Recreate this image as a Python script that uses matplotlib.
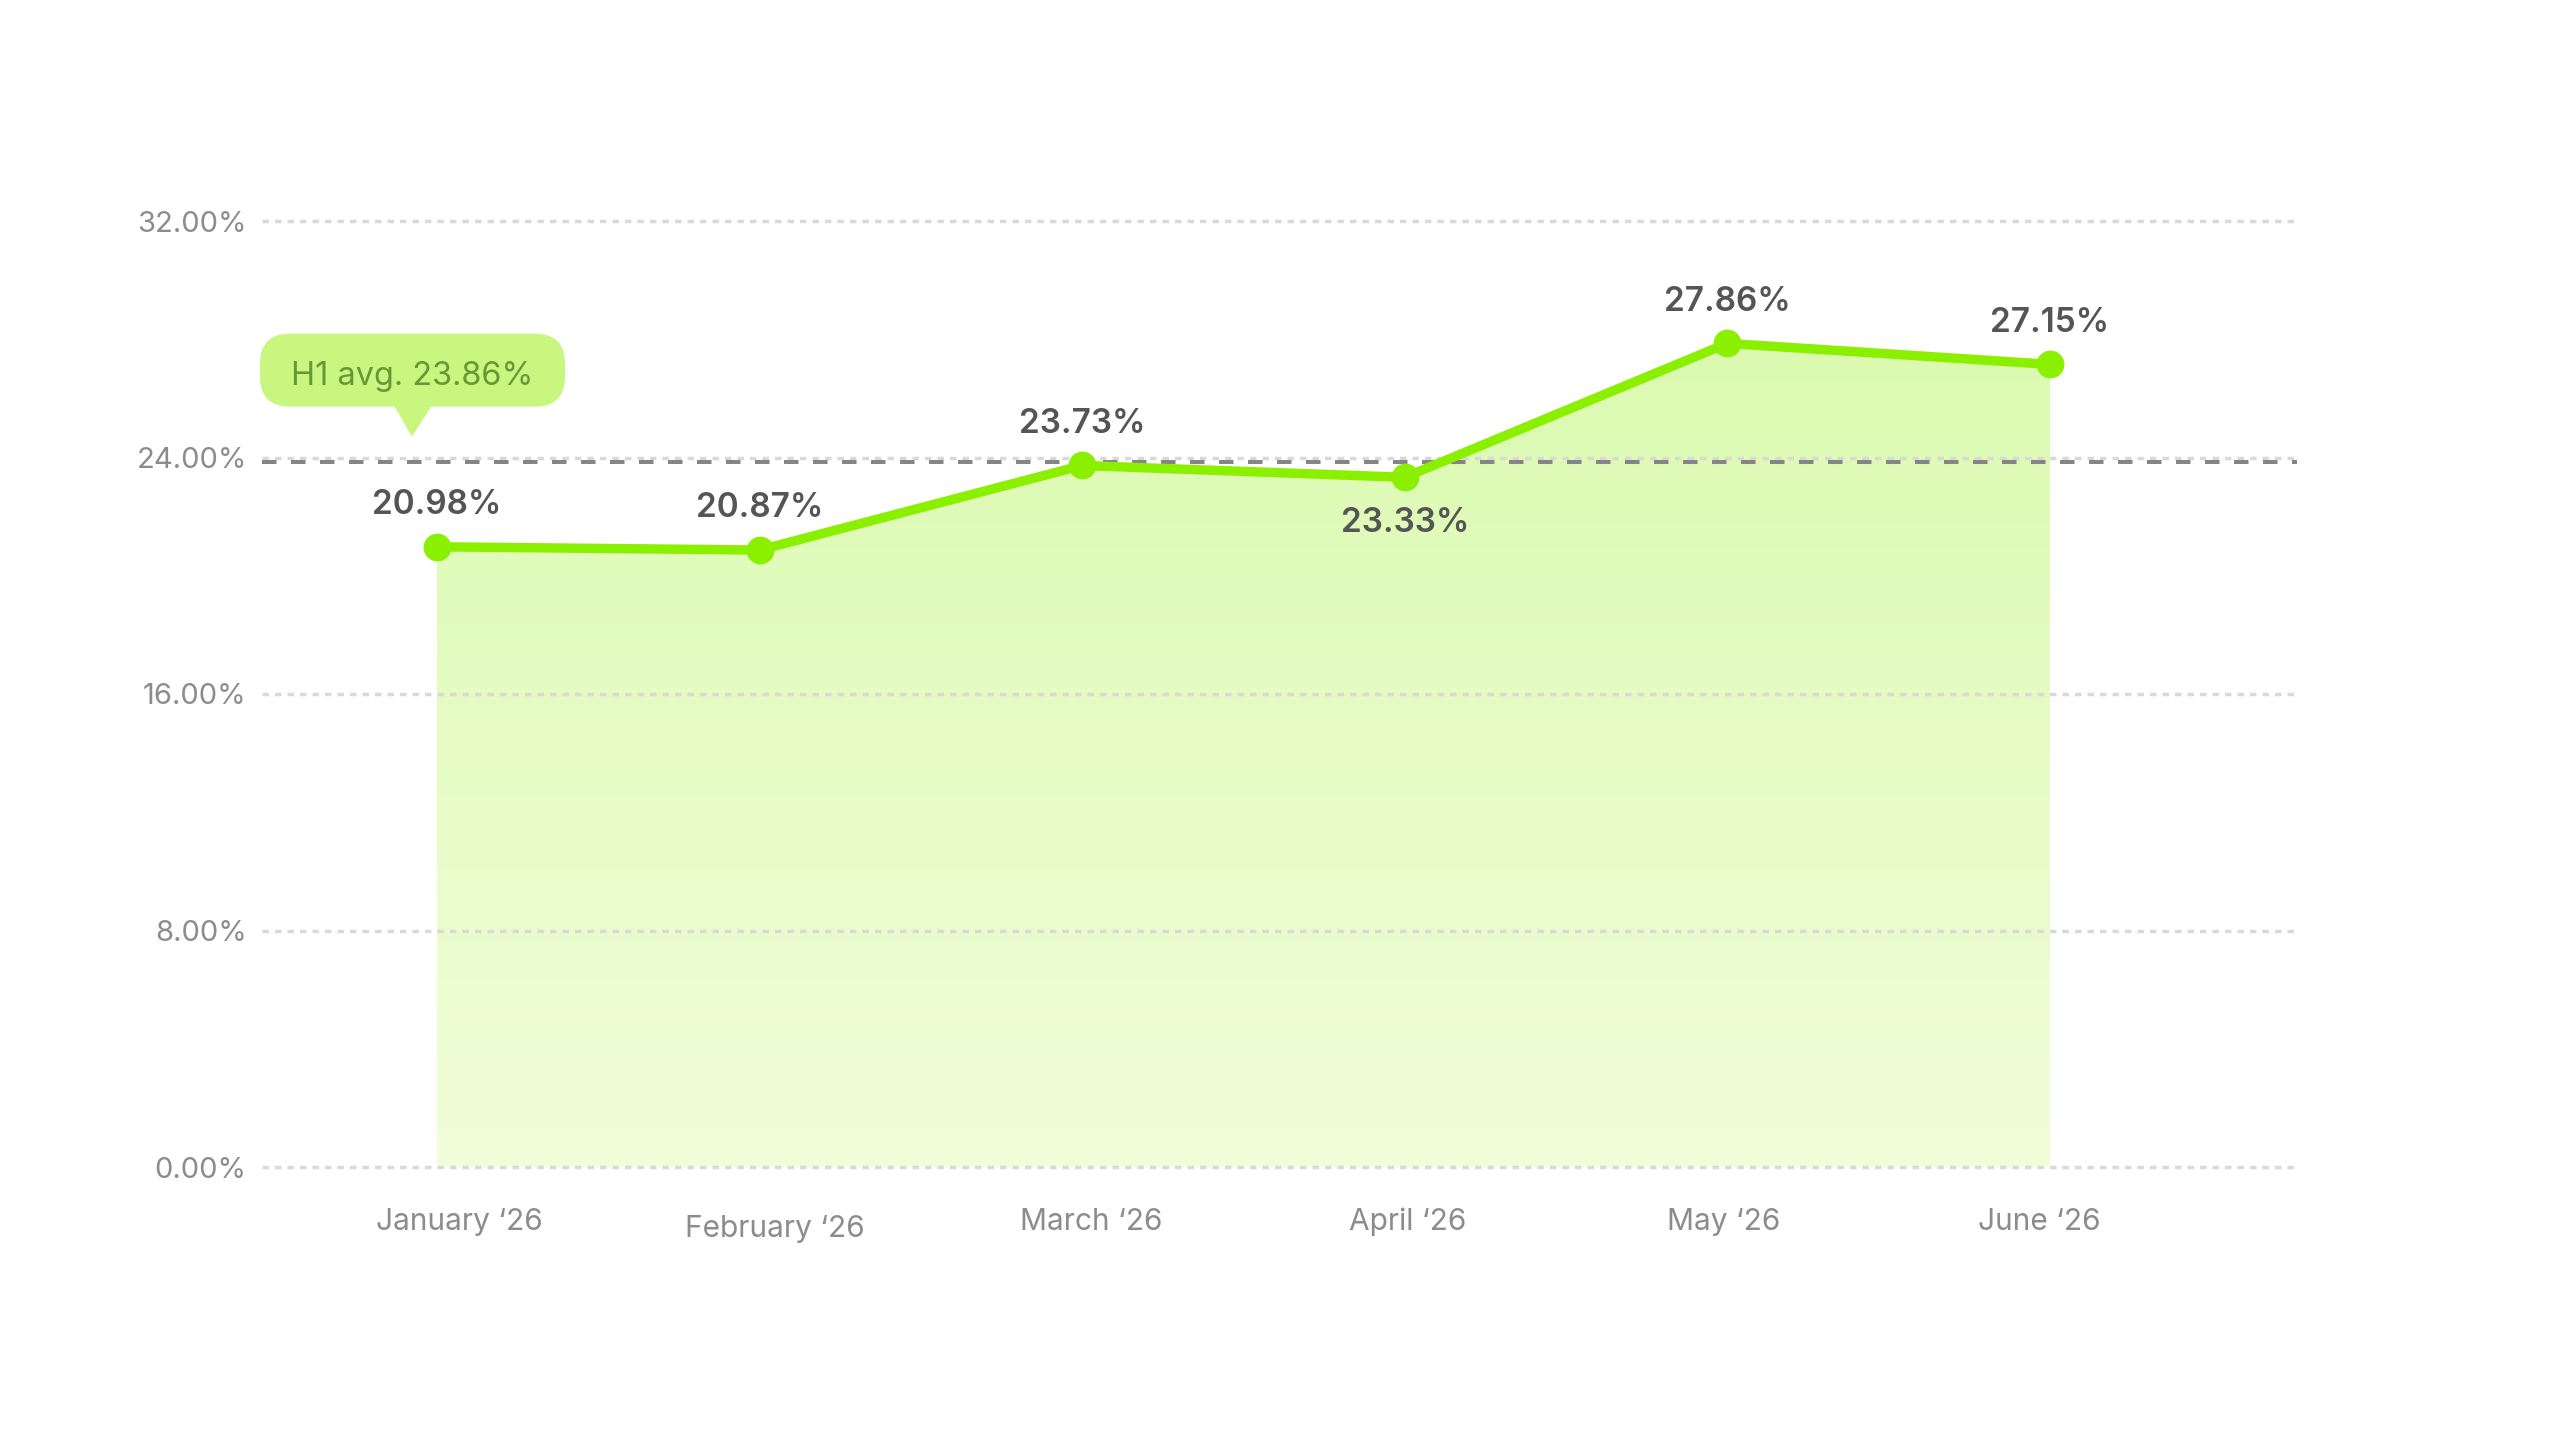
import matplotlib
matplotlib.use("Agg")
import matplotlib.pyplot as plt
import numpy as np
from matplotlib.patches import FancyBboxPatch, Polygon
from matplotlib.transforms import IdentityTransform, blended_transform_factory

plt.rcParams["font.family"] = ["Inter", "DejaVu Sans"]

# data
months = ["January \u201826", "February \u201826", "March \u201826",
          "April \u201826", "May \u201826", "June \u201826"]
rates = [20.98, 20.87, 23.73, 23.33, 27.86, 27.15]
label_below = [False, False, False, True, False, False]
h1_avg = 23.86
y_ticks = [0, 8, 16, 24, 32]

LINE = "#8BF000"
GRID = "#d9d9d9"
TXT = "#555555"
TICK = "#8c8c8c"

fig = plt.figure(figsize=(25.6, 14.4), dpi=100)
ax = fig.add_axes([262 / 2560, 1 - 1167 / 1440, (2297 - 262) / 2560, (1167 - 221) / 1440])
x = np.arange(len(rates))

# gradient fill under the line
fb = ax.fill_between(x, rates, 0, color="none")
bottom = np.array([241, 254, 217]) / 255
top = np.array([219, 250, 176]) / 255
t = np.linspace(0, 1, 256)[:, None, None]
grad = bottom + (top - bottom) * t
img = ax.imshow(grad, extent=[x[0], x[-1], 0, max(rates)], aspect="auto",
                origin="lower", zorder=0.5)
img.set_clip_path(fb.get_paths()[0], transform=ax.transData)

ax.set_xlim(-0.5425, 5.766)
ax.set_ylim(0, 32)

for yt in y_ticks:
    ax.axhline(yt, color=GRID, lw=2.5, linestyle=(0, (1.85, 1.75)), zorder=1, clip_on=False)
ax.axhline(h1_avg, color="#858585", lw=2.9, linestyle=(0, (3.6, 3.6)), zorder=1.6, clip_on=False)

ax.plot(x, rates, color=LINE, lw=6.8, marker="o", ms=19, zorder=3,
        clip_on=False, solid_capstyle="round")

for i, v in enumerate(rates):
    dy = -33 if label_below[i] else 30
    ax.annotate(f"{v:.2f}%", (i, v), xytext=(0, dy), textcoords="offset points",
                ha="center", va="center", fontsize=24, color=TXT, fontweight="semibold")

for s in ax.spines.values():
    s.set_visible(False)
ax.set_xticks([])
ax.set_yticks(y_ticks, [f"{t:.2f}%" for t in y_ticks])
ax.tick_params(axis="y", length=0, pad=11, labelsize=21, labelcolor=TICK)

# month labels under the axis
trans = blended_transform_factory(ax.transData, fig.transFigure)
for i, m in enumerate(months):
    yb = 0.141 if i == 1 else 0.1458
    ax.text(0.068 + 0.98 * i, yb, m, transform=trans, ha="center", va="baseline",
            fontsize=21.5, color=TICK)

# H1 average bubble
ay = ax.transData.transform((0, h1_avg))[1]
left = 262
box = FancyBboxPatch((left - 2, ay + 55), 305, 73,
                     boxstyle="round,pad=0,rounding_size=30",
                     transform=IdentityTransform(), fc="#C9F67F", ec="none")
tip = Polygon([(left + 131, ay + 58), (left + 171, ay + 58), (left + 150, ay + 25)],
              closed=True, transform=IdentityTransform(), fc="#C9F67F", ec="none")
fig.add_artist(box)
fig.add_artist(tip)
fig.text(left + 150.5, ay + 89, f"H1 avg. {h1_avg:.2f}%", transform=IdentityTransform(),
         ha="center", va="center_baseline", fontsize=23.4, color="#679835")

fig.savefig("out.png", dpi=100, facecolor="white")
